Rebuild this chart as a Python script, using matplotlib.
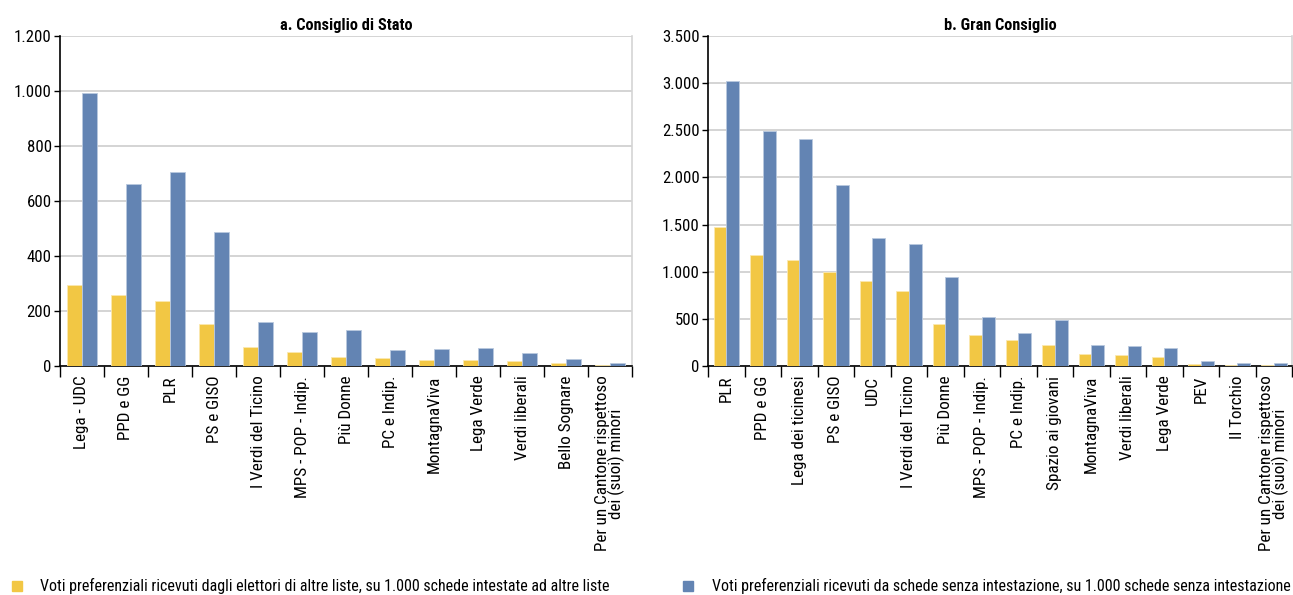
import matplotlib
matplotlib.use("Agg")
import numpy as np
from matplotlib import pyplot as plt
from matplotlib import font_manager
from matplotlib.ticker import FuncFormatter, FixedLocator

# condensed grotesque, the first one that is installed
available = set(f.name for f in font_manager.fontManager.ttflist)
candidates = ["Roboto Condensed", "PT Sans Narrow", "Archivo Narrow", "Fira Sans Condensed",
              "IBM Plex Sans Condensed", "Barlow Condensed", "Sofia Sans Condensed",
              "Liberation Sans Narrow"]
font_name = next((c for c in candidates if c in available), "DejaVu Sans")
plt.rcParams['font.family'] = [font_name, 'DejaVu Sans']

# a. Consiglio di Stato
cds_labels = ["Lega - UDC", "PPD e GG", "PLR", "PS e GISO", "I Verdi del Ticino",
              "MPS - POP - Indip.", "Più Donne", "PC e Indip.", "MontagnaViva",
              "Lega Verde", "Verdi liberali", "Bello Sognare",
              "Per un Cantone rispettoso\ndei (suoi) minori"]
cds_altre = [295, 259, 237, 152, 69, 51, 33, 28, 22, 22, 17, 11, 5]
cds_senza = [992, 662, 704, 487, 159, 125, 130, 57, 62, 64, 47, 25, 11]

# b. Gran Consiglio
gc_labels = ["PLR", "PPD e GG", "Lega dei ticinesi", "PS e GISO", "UDC",
             "I Verdi del Ticino", "Più Donne", "MPS - POP - Indip.", "PC e Indip.",
             "Spazio ai giovani", "MontagnaViva", "Verdi liberali", "Lega Verde",
             "PEV", "Il Torchio", "Per un Cantone rispettoso\ndei (suoi) minori"]
gc_altre = [1470, 1180, 1126, 999, 903, 793, 446, 329, 280, 223, 124, 117, 96, 21, 14, 14]
gc_senza = [3018, 2497, 2412, 1923, 1360, 1297, 946, 517, 347, 485, 223, 209, 188, 50, 32, 32]

leg_altre = "Voti preferenziali ricevuti dagli elettori di altre liste, su 1.000 schede intestate ad altre liste"
leg_senza = "Voti preferenziali ricevuti da schede senza intestazione, su 1.000 schede senza intestazione"

c_yellow = "#F2C744"
c_blue = "#6384B3"
grid_c = "#d4d4d4"

fig = plt.figure(figsize=(12.93, 5.95), dpi=100)
renderer = fig.canvas.get_renderer()


def size_for(text, px, **kw):
    # font size that makes `text` about px pixels wide
    t = fig.text(0, 0, text, fontsize=10, **kw)
    w = t.get_window_extent(renderer).width
    t.remove()
    return 10 * px / w


tick_fs = size_for("Per un Cantone rispettoso", 175)
ytick_fs = size_for("1.200", 37)
title_fs = size_for("a. Consiglio di Stato", 132, fontweight="bold")
leg_fs = min(size_for(leg_altre, 580), size_for(leg_senza, 574))


def thousands(v, pos):
    return f"{int(v):,}".replace(",", ".")


def draw_panel(ax, title, labels, altre, senza, ymax, ystep):
    x = np.arange(len(labels))
    w = 0.35
    ax.bar(x - w / 2, altre, width=w, color=c_yellow, edgecolor="#fbe9b0", linewidth=0.6, zorder=3)
    ax.bar(x + w / 2, senza, width=w, color=c_blue, edgecolor="#b9c9df", linewidth=0.6, zorder=3)
    ax.set_xlim(-0.5, len(labels) - 0.5)
    ax.set_ylim(0, ymax)
    ax.set_yticks(np.arange(0, ymax + 1, ystep))
    ax.yaxis.set_major_formatter(FuncFormatter(thousands))
    ax.grid(axis="y", color=grid_c, linewidth=1.4, zorder=0)
    ax.set_axisbelow(True)
    ax.spines["top"].set_visible(False)
    ax.spines["right"].set_color(grid_c)
    ax.spines["right"].set_linewidth(1.2)
    ax.spines["left"].set_linewidth(1.2)
    ax.spines["bottom"].set_linewidth(1.2)
    ax.set_xticks(x)
    ax.set_xticklabels(labels, rotation=90, fontsize=tick_fs, linespacing=0.85)
    ax.xaxis.set_minor_locator(FixedLocator(np.arange(-0.5, len(labels), 1.0)))
    ax.tick_params(axis="x", which="major", length=0, pad=7)
    ax.tick_params(axis="x", which="minor", length=8, width=1, direction="out")
    ax.tick_params(axis="y", length=4, width=1, labelsize=ytick_fs, pad=2)
    ax.set_title(title, fontsize=title_fs, fontweight="bold", pad=4)


ax1 = fig.add_axes([0.0464, 0.3849, 0.4424, 0.5546])
ax2 = fig.add_axes([0.5476, 0.3849, 0.4517, 0.5546])

draw_panel(ax1, "a. Consiglio di Stato", cds_labels, cds_altre, cds_senza, 1200, 200)
draw_panel(ax2, "b. Gran Consiglio", gc_labels, gc_altre, gc_senza, 3500, 500)

# legend
fig.patches.append(plt.Rectangle((12 / 1293, 1 - 591 / 595), 10 / 1293, 10 / 595,
                                 transform=fig.transFigure, color=c_yellow))
fig.text(40 / 1293, 1 - 586 / 595, leg_altre, fontsize=leg_fs, va="center")
fig.patches.append(plt.Rectangle((683 / 1293, 1 - 591 / 595), 10 / 1293, 10 / 595,
                                 transform=fig.transFigure, color=c_blue))
fig.text(712 / 1293, 1 - 586 / 595, leg_senza, fontsize=leg_fs, va="center")

fig.savefig("out.png", dpi=100)
